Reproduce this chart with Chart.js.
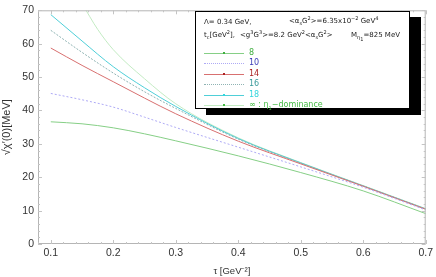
<!DOCTYPE html>
<html>
<head>
<meta charset="utf-8">
<script src="https://cdn.jsdelivr.net/npm/chart.js@4"></script>
<style>
	body { margin: 0; background: #fff; }
	#wrap { position: relative; width: 436px; height: 277px; }
	#legendBox {
		position: absolute; left: 195px; top: 11px; width: 213px; height: 96px;
		border: 1px solid #000; background: #fff; box-shadow: 11px 6px 0 #000;
		font-family: "DejaVu Sans", sans-serif; font-size: 7px; color: #222;
	}
	#legendBox .t { position: absolute; white-space: nowrap; }
	#legendBox sub, #legendBox sup { font-size: 5px; line-height: 0; }
	.row { position: absolute; left: 8px; height: 10px; width: 180px; }
	.row .ln { position: absolute; left: 0; top: 5px; width: 40px; height: 0; }
	.row .dot { position: absolute; left: 19px; top: 4px; width: 2px; height: 2px; }
	.row .lb { position: absolute; left: 45px; top: 0; font-size: 8px; line-height: 10px; }
</style>
</head>
<body>
<div id="wrap">
	<canvas id="myChart" width="436" height="277"></canvas>
	<div id="legendBox">
		<div class="t" style="left:8px;top:6px">Λ= 0.34 GeV,</div>
		<div class="t" style="left:93px;top:5px">&lt;α<sub>s</sub>G<sup>2</sup>&gt;=6.35x10<sup>−2</sup> GeV<sup>4</sup></div>
		<div class="t" style="left:8px;top:19px">t<sub>c</sub>[GeV<sup>2</sup>],</div>
		<div class="t" style="left:44px;top:19px">&lt;g<sup>3</sup>G<sup>3</sup>&gt;=8.2 GeV<sup>2</sup>&lt;α<sub>s</sub>G<sup>2</sup>&gt;</div>
		<div class="t" style="left:155px;top:19px">M<sub>η<sub>1</sub></sub>=825 MeV</div>
	</div>
</div>
<script>
const tau = [0.1, 0.15, 0.2, 0.25, 0.3, 0.4, 0.5, 0.6, 0.7];
const tauInf = [0.15, 0.175, 0.2, 0.25, 0.3, 0.4, 0.5, 0.6, 0.7];

// sqrt(chi'(0)) in MeV for each t_c
const tc8 = [36.6, 36.0, 34.8, 33.0, 30.9, 26.4, 21.4, 15.9, 9.1];
const tc10 = [45.1, 43.2, 41.0, 38.0, 34.9, 29.0, 23.1, 17.0, 10.2];
const tc14 = [58.7, 53.5, 48.6, 43.7, 39.0, 30.8, 24.0, 17.3, 10.4];
const tc16 = [64.0, 57.4, 51.2, 45.6, 40.6, 31.4, 24.2, 17.4, 10.5];
const tc18 = [68.7, 60.8, 53.1, 46.8, 41.2, 31.6, 24.3, 17.4, 10.5];
const tcInf = [72.0, 64.3, 58.2, 49.5, 42.0, 31.8, 24.4, 17.5, 10.6];

const seriesLabels = ['8', '10', '14', '16', '18', '∞ : η1−dominance'];
const xTicks = [0.1, 0.2, 0.3, 0.4, 0.5, 0.6, 0.7];
const yTicks = [0, 10, 20, 30, 40, 50, 60, 70];

const lineColors = ['#86cf86', '#aeaaf5', '#d87070', '#8fb3b3', '#4fcfd8', '#c3ebc3'];
const labelColors = ['#3fae3f', '#3b3bb8', '#aa2222', '#3a9a9a', '#33d6dd', '#44bb44'];
const dashes = [[], [2, 2], [], [2, 1.5], [], []];
const dots = [true, false, true, false, true, true];

const pts = (xs, ys) => xs.map((x, i) => ({ x: x, y: ys[i] }));
const allData = [pts(tau, tc8), pts(tau, tc10), pts(tau, tc14), pts(tau, tc16), pts(tau, tc18), pts(tauInf, tcInf)];

// inward ticks on all four sides, like the original frame
const frameTicks = {
	id: 'frameTicks',
	afterDraw(chart) {
		const { ctx, chartArea: a, scales: { x, y } } = chart;
		ctx.save();
		ctx.strokeStyle = '#b5b5b5';
		ctx.lineWidth = 1;
		ctx.strokeRect(a.left + 0.5, a.top + 0.5, a.right - a.left - 1, a.bottom - a.top - 1);
		ctx.strokeStyle = '#c4c4c4';
		ctx.beginPath();
		for (let v = 0.08; v <= 0.7001; v += 0.02) {
			const px = Math.round(x.getPixelForValue(v)) + 0.5;
			const major = Math.abs(v * 10 - Math.round(v * 10)) < 1e-6;
			const len = major ? 4 : 2;
			ctx.moveTo(px, a.bottom); ctx.lineTo(px, a.bottom - len);
			ctx.moveTo(px, a.top); ctx.lineTo(px, a.top + len);
		}
		for (let v = 0; v <= 70; v += 2) {
			const py = Math.round(y.getPixelForValue(v)) + 0.5;
			const len = v % 10 === 0 ? 4 : 2;
			ctx.moveTo(a.left, py); ctx.lineTo(a.left + len, py);
			ctx.moveTo(a.right, py); ctx.lineTo(a.right - len, py);
		}
		ctx.stroke();
		ctx.restore();
	}
};

const ctx = document.getElementById('myChart');
const myChart = new Chart(ctx, {
	type: 'line',
	data: {
		datasets: allData.map((d, i) => ({
			label: seriesLabels[i],
			data: d,
			borderColor: lineColors[i],
			borderWidth: 1,
			borderDash: dashes[i],
			pointRadius: 0,
			tension: 0.4,
			cubicInterpolationMode: 'monotone',
			fill: false
		}))
	},
	options: {
		responsive: false,
		animation: false,
		layout: { padding: { top: 5, right: 9, left: 0, bottom: 0 } },
		plugins: { legend: { display: false }, tooltip: { enabled: false } },
		scales: {
			x: {
				type: 'linear',
				min: 0.0795,
				max: 0.7,
				afterBuildTicks: s => { s.ticks = xTicks.map(v => ({ value: v })); },
				afterFit: s => { s.height = 33; },
				grid: { display: false, drawTicks: false },
				border: { display: false },
				ticks: { padding: 3, color: '#333', font: { family: 'Liberation Sans', size: 10.5 }, callback: v => v.toFixed(1) },
				title: { display: true, text: 'τ [GeV⁻²]', color: '#333', padding: { top: 1, bottom: 0 }, font: { family: 'Liberation Sans', size: 9.5 } }
			},
			y: {
				min: 0,
				max: 70,
				afterBuildTicks: s => { s.ticks = yTicks.map(v => ({ value: v })); },
				afterFit: s => { s.width = 38; },
				grid: { display: false, drawTicks: false },
				border: { display: false },
				ticks: { padding: 4, color: '#333', font: { family: 'Liberation Sans', size: 10.5 } },
				title: { display: true, text: '√χ′(0)[MeV]', color: '#333', padding: { top: 0, bottom: 1 }, font: { family: 'Liberation Sans', size: 11 } }
			}
		}
	},
	plugins: [frameTicks]
});

// legend rows, built from the same arrays as the chart
const box = document.getElementById('legendBox');
const rowTops = [36, 46, 56.5, 67, 77.5, 88];
seriesLabels.forEach((lab, i) => {
	const row = document.createElement('div');
	row.className = 'row';
	row.style.top = rowTops[i] + 'px';
	const ln = document.createElement('div');
	ln.className = 'ln';
	ln.style.borderTop = '1px ' + (dashes[i].length ? 'dotted ' : 'solid ') + lineColors[i];
	row.appendChild(ln);
	if (dots[i]) {
		const dot = document.createElement('div');
		dot.className = 'dot';
		dot.style.background = labelColors[i];
		row.appendChild(dot);
	}
	const lb = document.createElement('div');
	lb.className = 'lb';
	lb.style.color = labelColors[i];
	lb.innerHTML = i === 5 ? '∞ : η<sub>1</sub>−dominance' : lab;
	row.appendChild(lb);
	box.appendChild(row);
});
</script>
</body>
</html>
